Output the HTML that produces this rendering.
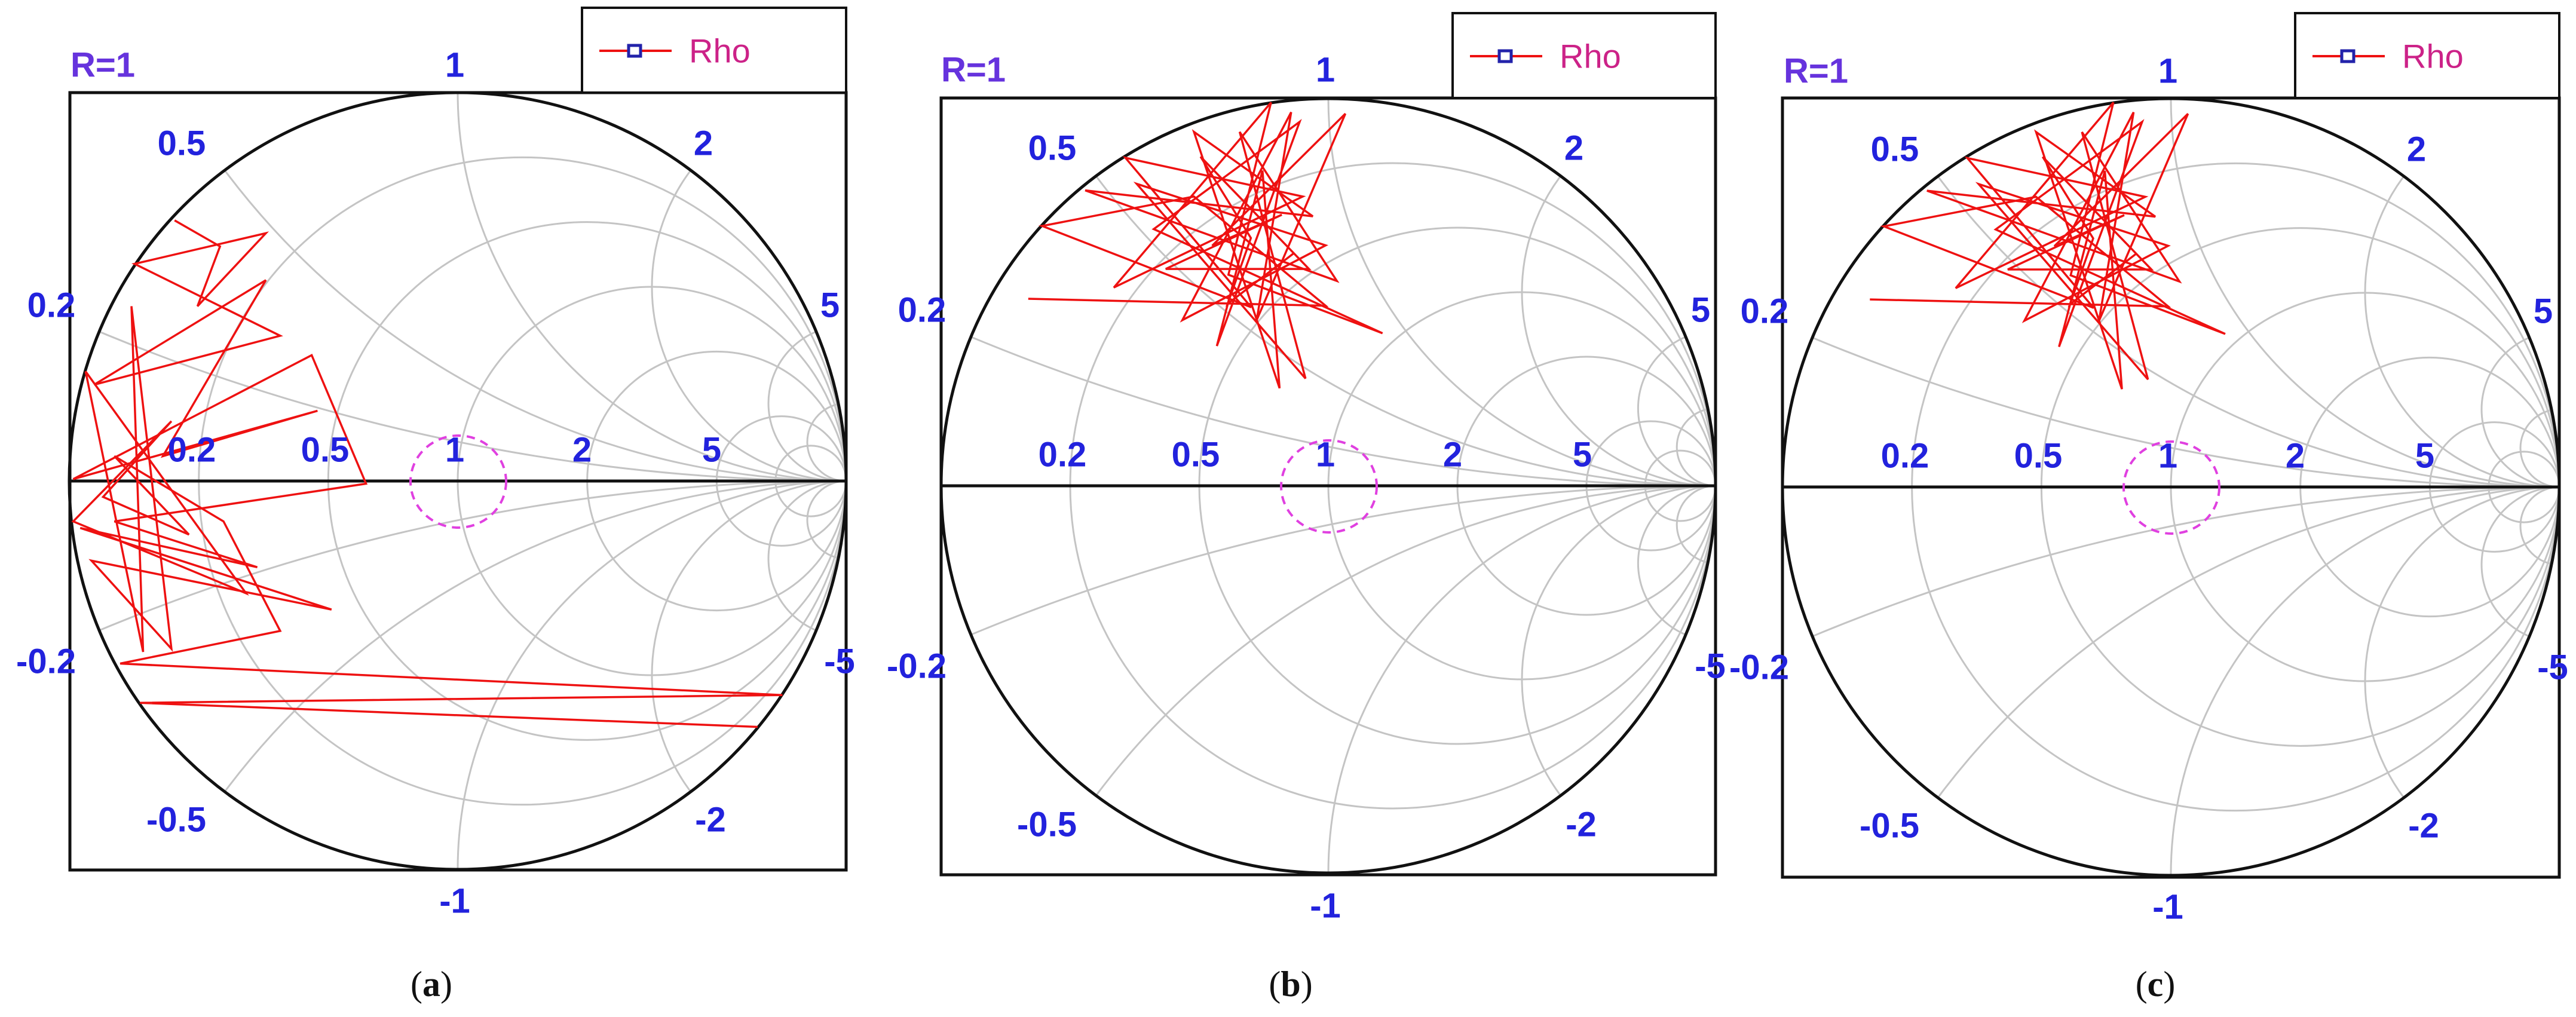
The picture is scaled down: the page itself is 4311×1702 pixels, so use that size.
<!DOCTYPE html>
<html><head><meta charset="utf-8"><style>
html,body{margin:0;padding:0;background:#fff;width:4311px;height:1702px;overflow:hidden;}
svg{display:block;}
</style></head><body>
<svg id="fig" width="4311" height="1702" viewBox="0 0 4311 1702" xmlns="http://www.w3.org/2000/svg"></svg>
<script>
// Panel a reflection coefficient trace (Re, Im of Gamma)
const rhoA_re = [-0.729,-0.612,-0.670,-0.494,-0.832,-0.457,-0.936,-0.494,-0.759,-0.361,-0.990,-0.376,-0.236,-0.884,-0.516,-0.972,-0.325,-0.943,-0.737,-0.840,-0.810,-0.958,-0.545,-0.990,-0.737,-0.913,-0.692,-0.884,-0.603,-0.457,-0.869,0.836,-0.818,0.772];
const rhoA_im = [0.671,0.604,0.450,0.638,0.559,0.374,0.248,0.517,0.064,0.181,0.005,0.324,-0.007,-0.104,-0.222,-0.121,-0.331,-0.205,-0.432,0.450,-0.440,0.282,-0.289,-0.104,0.154,-0.041,-0.138,0.064,-0.104,-0.386,-0.470,-0.551,-0.571,-0.633];
// Panel b trace
const rhoB_re = [-0.775,-0.007,-0.347,-0.739,-0.199,-0.524,-0.066,-0.554,-0.148,-0.258,0.140,-0.451,-0.074,-0.288,-0.170,-0.126,-0.347,-0.040,-0.628,0.022,-0.229,-0.059,-0.495,-0.007,-0.377,-0.096,-0.185,0.044,-0.300,-0.120,-0.420,-0.050,-0.330,-0.200,-0.260,-0.090];
const rhoB_im = [0.483,0.465,0.747,0.671,0.461,0.847,0.747,0.512,0.990,0.545,0.394,0.663,0.940,0.361,0.814,0.252,0.914,0.696,0.763,0.529,0.914,0.277,0.780,0.621,0.428,0.965,0.428,0.961,0.620,0.700,0.560,0.560,0.850,0.640,0.470,0.600];
// Panel c trace
const rhoC_re = [-0.775,-0.007,-0.347,-0.739,-0.199,-0.524,-0.066,-0.554,-0.148,-0.258,0.140,-0.451,-0.074,-0.288,-0.170,-0.126,-0.347,-0.040,-0.628,0.022,-0.229,-0.059,-0.495,-0.007,-0.377,-0.096,-0.185,0.044,-0.300,-0.120,-0.420,-0.050,-0.330,-0.200,-0.260,-0.090];
const rhoC_im = [0.483,0.465,0.747,0.671,0.461,0.847,0.747,0.512,0.990,0.545,0.394,0.663,0.940,0.361,0.814,0.252,0.914,0.696,0.763,0.529,0.914,0.277,0.780,0.621,0.428,0.965,0.428,0.961,0.620,0.700,0.560,0.560,0.850,0.640,0.470,0.600];
// grid values
const resistanceValues = [0.2,0.5,1,2,5,10];
const reactanceValues = [0.2,0.5,1,2,5,10,-0.2,-0.5,-1,-2,-5,-10];
const innerLabels = ["0.2","0.5","1","2","5"];
const panelCaptions = ["a","b","c"];

const NS="http://www.w3.org/2000/svg";
const svg=document.getElementById('fig');
function mk(tag,attrs,parent){const e=document.createElementNS(NS,tag);for(const k in attrs)e.setAttribute(k,attrs[k]);(parent||svg).appendChild(e);return e;}

const panels=[
 {cx:766,cy:805,R:650,box:[117,155,1416,1456],cap:722,re:rhoA_re,im:rhoA_im},
 {cx:2223,cy:813,R:648,box:[1575,164,2871,1464],cap:2160,re:rhoB_re,im:rhoB_im},
 {cx:3633,cy:815,R:650,box:[2983,164,4283,1468],cap:3607,re:rhoC_re,im:rhoC_im}
];

panels.forEach((p,i)=>{
 const g=mk('g',{});
 
 
 const X=v=>p.cx+v*p.R, Y=v=>p.cy-v*p.R;
 const cid='clip'+i;
 const cp=mk('clipPath',{id:cid},g);
 mk('circle',{cx:p.cx,cy:p.cy,r:p.R},cp);
 const grid=mk('g',{'clip-path':'url(#'+cid+')',fill:'none',stroke:'#c4c4c4','stroke-width':3},g);
 
 
 resistanceValues.forEach(r=>{
  const c=mk('circle',{cx:X(r/(1+r)),cy:Y(0),r:p.R/(1+r)},grid);
  
  
 });
 reactanceValues.forEach(x=>{
  const c=mk('circle',{cx:X(1),cy:Y(1/x),r:p.R/Math.abs(x)},grid);
  
  
 });
 const [x0,y0,x1,y1]=p.box;
 const b=mk('rect',{x:x0,y:y0,width:x1-x0,height:y1-y0,fill:'none',stroke:'#111','stroke-width':5},g);
 
 
 const oc=mk('circle',{cx:p.cx,cy:p.cy,r:p.R,fill:'none',stroke:'#111','stroke-width':5},g);
 
 
 const ax=mk('line',{x1:x0,y1:p.cy,x2:x1,y2:p.cy,stroke:'#111','stroke-width':5},g);
 
 
 const dc=mk('ellipse',{cx:p.cx+1,cy:p.cy+1,rx:80,ry:77,fill:'none',stroke:'#e040e0','stroke-width':4,'stroke-dasharray':'14 10'},g);
 
 
 // trace
 const pts=p.re.map((v,k)=>X(v).toFixed(1)+','+Y(p.im[k]).toFixed(1)).join(' ');
 const tr=mk('polyline',{points:pts,fill:'none',stroke:'#ee1111','stroke-width':3.5,'stroke-linejoin':'miter'},g);
 
 
 // labels
 const lab=(t,dx,dy,name,col)=>{const e=mk('text',{x:p.cx+dx,y:p.cy+dy,'text-anchor':'middle','dominant-baseline':'central','font-family':'Liberation Sans, sans-serif','font-size':58,'font-weight':'bold',fill:col||'#2222dd'},g);e.textContent=t;
  
  };
 lab('R=1',-594,-696,'r-label','#6633dd');
 lab('1',-5,-696,'reactance-label-1');
 lab('0.5',-462,-565,'reactance-label-0.5');
 lab('2',411,-565,'reactance-label-2');
 lab('0.2',-680,-294,'reactance-label-0.2');
 lab('5',623,-294,'reactance-label-5');
 lab('-0.2',-689,302,'reactance-label-neg-0.2');
 lab('-5',639,302,'reactance-label-neg-5');
 lab('-0.5',-471,567,'reactance-label-neg-0.5');
 lab('-2',423,567,'reactance-label-neg-2');
 lab('-1',-5,703,'reactance-label-neg-1');
 const inx=[-445,-222,-5,208,425];
 innerLabels.forEach((t,k)=>lab(t,inx[k],-52,'resistance-label'));
 // legend
 const lx=p.cx+208, ly=p.box[1]-142;
 const lg=mk('g',{},g);
 
 
 mk('rect',{x:lx,y:ly,width:p.box[2]-lx,height:142,fill:'#fff',stroke:'#111','stroke-width':4},lg);
 mk('line',{x1:lx+29,y1:ly+72,x2:lx+150,y2:ly+72,stroke:'#ee1111','stroke-width':4},lg);
 mk('rect',{x:lx+78,y:ly+63,width:20,height:18,fill:'#fff',stroke:'#2222aa','stroke-width':5},lg);
 const lt=mk('text',{x:lx+179,y:ly+72,'dominant-baseline':'central','font-family':'Liberation Sans, sans-serif','font-size':56,fill:'#cc2288'},lg);
 lt.textContent='Rho';
 
 
 // caption
 const cap=mk('text',{x:p.cap,y:1647,'text-anchor':'middle','dominant-baseline':'central','font-family':'Liberation Serif, serif','font-size':60,fill:'#111'},svg);
 cap.innerHTML='(<tspan font-weight="bold">'+panelCaptions[i]+'</tspan>)';
 
 
});
</script>
</body></html>
